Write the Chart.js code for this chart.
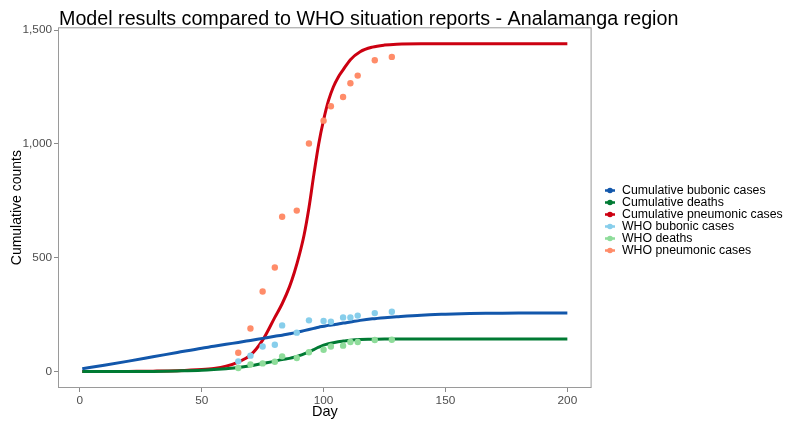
<!DOCTYPE html>
<html>
<head>
<meta charset="utf-8">
<script src="https://cdn.jsdelivr.net/npm/chart.js@4"></script>
<style>
  html, body { margin: 0; padding: 0; background: #fff; }
  #wrap { width: 792px; height: 428px; }
</style>
</head>
<body>
<div id="wrap"><canvas id="chart" width="792" height="428"></canvas></div>
<script>
// model output
const modelDays = [1, 10, 20, 30, 40, 50, 55, 60, 65, 70, 75, 80, 83, 86, 88, 90, 92, 94, 96, 98, 100, 102, 104, 106, 108, 111, 115, 120, 125, 130, 140, 150, 160, 170, 180, 190, 200];
const bubonicModel = [13, 28, 46, 65, 84, 103, 111, 120, 128, 137, 146, 155, 160, 166, 170, 175, 180, 185, 190, 195, 199, 203, 206, 209, 213, 218, 225, 232, 237, 241, 248, 252, 255, 256, 257, 257, 257];
const deathsModel = [0, 0, 0, 1, 3, 6, 9, 13, 18, 26, 36, 46, 53, 58, 63, 70, 78, 87, 97, 107, 116, 122, 127, 131, 134, 138, 141, 142, 143, 143, 143, 143, 143, 143, 143, 143, 143];
const pneumonicModel = [0, 0, 1, 2, 4, 9, 14, 24, 42, 72, 138, 238, 298, 372, 435, 510, 600, 720, 865, 1000, 1105, 1190, 1250, 1293, 1325, 1370, 1405, 1425, 1434, 1438, 1440, 1440, 1440, 1440, 1440, 1440, 1440];

// WHO situation reports
const whoDays = [65, 70, 75, 80, 83, 89, 94, 100, 103, 108, 111, 114, 121, 128];
const whoBubonic = [45, 70, 110, 118, 203, 171, 225, 222, 219, 238, 238, 246, 257, 263];
const whoDeaths = [16, 31, 36, 43, 67, 60, 85, 96, 110, 114, 130, 130, 139, 140];
const whoPneumonic = [83, 189, 352, 457, 680, 707, 1002, 1102, 1165, 1206, 1266, 1300, 1367, 1382];

const xTicks = [0, 50, 100, 150, 200];
const yTicks = [0, 500, 1000, 1500];

const legendLabels = ["Cumulative bubonic cases", "Cumulative deaths", "Cumulative pneumonic cases",
  "WHO bubonic cases", "WHO deaths", "WHO pneumonic cases"];
const colors = ["#1257AB", "#007A33", "#CC0011", "#87CEEB", "#8EDC9A", "#FF8C69"];

const FONT = "'Liberation Sans', Arial, sans-serif";

function pts(xs, ys) {
  return xs.map((x, i) => ({ x: x, y: ys[i] }));
}

function lineSet(label, xs, ys, color) {
  return {
    type: "line", label: label, data: pts(xs, ys),
    borderColor: color, backgroundColor: color, borderWidth: 3,
    pointRadius: 0, cubicInterpolationMode: "monotone", fill: false, order: 2
  };
}

function pointSet(label, xs, ys, color) {
  return {
    type: "scatter", label: label, data: pts(xs, ys),
    backgroundColor: color, borderColor: color, borderWidth: 0,
    pointRadius: 3.2, order: 1
  };
}

// panel border, title and legend (ggplot-style)
const extras = {
  id: "extras",
  afterDatasetsDraw(chart) {
    const a = chart.chartArea;
    const ctx = chart.ctx;
    ctx.save();
    ctx.strokeStyle = "#9a9a9a";
    ctx.lineWidth = 1;
    ctx.strokeRect(a.left + 0.5, a.top + 0.5, a.right - a.left - 1, a.bottom - a.top - 1);
    ctx.restore();
  },
  afterDraw(chart) {
    const ctx = chart.ctx;
    ctx.save();
    ctx.fillStyle = "#000";
    ctx.font = "19.7px " + FONT;
    ctx.textBaseline = "alphabetic";
    ctx.textAlign = "left";
    ctx.fillText("Model results compared to WHO situation reports - Analamanga region", chart.chartArea.left + 1, 25);

    ctx.font = "12.3px " + FONT;
    ctx.textBaseline = "middle";
    legendLabels.forEach((t, i) => {
      const y = 190.5 + i * 12;
      ctx.strokeStyle = colors[i];
      ctx.fillStyle = colors[i];
      ctx.lineWidth = 2.5;
      ctx.beginPath();
      ctx.moveTo(605, y);
      ctx.lineTo(615, y);
      ctx.stroke();
      ctx.beginPath();
      ctx.arc(610, y, 2.8, 0, Math.PI * 2);
      ctx.fill();
      ctx.fillStyle = "#000";
      ctx.fillText(t, 622, y);
    });
    ctx.restore();
  }
};

new Chart(document.getElementById("chart"), {
  data: {
    datasets: [
      lineSet(legendLabels[0], modelDays, bubonicModel, colors[0]),
      lineSet(legendLabels[1], modelDays, deathsModel, colors[1]),
      lineSet(legendLabels[2], modelDays, pneumonicModel, colors[2]),
      pointSet(legendLabels[3], whoDays, whoBubonic, colors[3]),
      pointSet(legendLabels[4], whoDays, whoDeaths, colors[4]),
      pointSet(legendLabels[5], whoDays, whoPneumonic, colors[5])
    ]
  },
  options: {
    responsive: false,
    animation: false,
    layout: { padding: { left: 0, right: 200.4, top: 27.3, bottom: 0 } },
    plugins: { legend: { display: false }, title: { display: false }, tooltip: { enabled: false } },
    scales: {
      x: {
        type: "linear", position: "bottom", min: -8.95, max: 209.95,
        afterBuildTicks: s => { s.ticks = xTicks.map(v => ({ value: v })); },
        afterFit: s => { s.height = 40; },
        grid: { drawOnChartArea: false, tickLength: 4, color: "#8a8a8a" },
        border: { display: false },
        ticks: { color: "#4d4d4d", font: { size: 11.8, family: FONT }, padding: 2, maxRotation: 0, autoSkip: false },
        title: { display: true, text: "Day", color: "#000", font: { size: 14.5, family: FONT }, padding: { top: 0, bottom: 7 } }
      },
      y: {
        type: "linear", position: "left", min: -72, max: 1512,
        afterBuildTicks: s => { s.ticks = yTicks.map(v => ({ value: v })); },
        afterFit: s => { s.width = 58; },
        grid: { drawOnChartArea: false, tickLength: 4, color: "#8a8a8a" },
        border: { display: false },
        ticks: { color: "#4d4d4d", font: { size: 11.8, family: FONT }, padding: 2, autoSkip: false,
          callback: v => v.toLocaleString("en-US") },
        title: { display: true, text: "Cumulative counts", color: "#000", font: { size: 14, family: FONT }, padding: { top: 9, bottom: 0 } }
      }
    }
  },
  plugins: [extras]
});
</script>
</body>
</html>
